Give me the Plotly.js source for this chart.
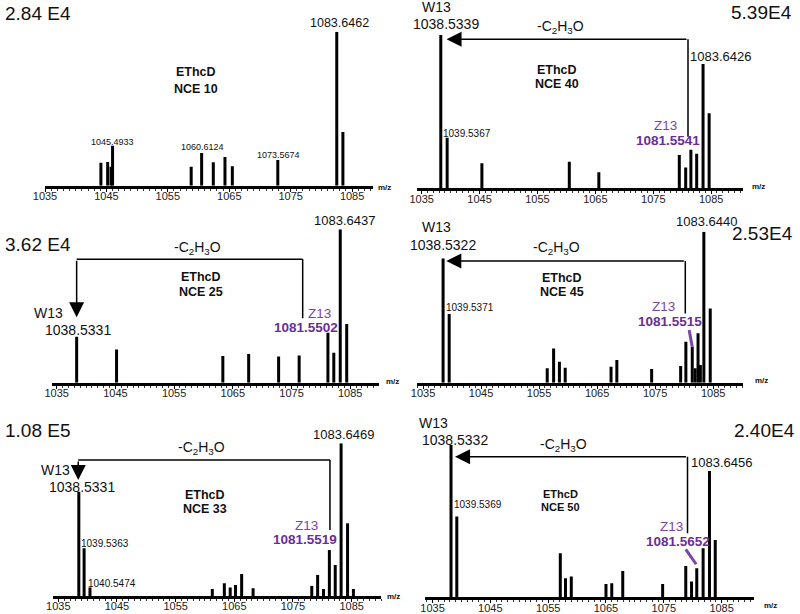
<!DOCTYPE html>
<html>
<head>
<meta charset="utf-8">
<script src="https://cdn.plot.ly/plotly-3.0.1.min.js"></script>
<style>
html, body { margin: 0; padding: 0; background: #fff; }
#grafico { width: 800px; height: 614px; }
</style>
</head>
<body>
<div id="grafico"></div>
<script>
// m/z (read on each panel's own tick scale) and relative intensity (%)
let nce10_mz = [1044.1, 1045.2, 1045.75, 1046.0, 1058.8, 1060.5, 1062.4, 1064.3, 1065.5, 1072.9, 1082.5, 1083.5]
let nce10_int = [14.9, 15.4, 12.3, 26, 12.3, 21.2, 15.2, 18.6, 12.6, 16.7, 100, 34.8]

let nce40_mz = [1038.3, 1039.4, 1045.4, 1060.5, 1065.6, 1079.5, 1080.6, 1081.5, 1082.5, 1083.6, 1084.65]
let nce40_int = [100, 33, 16.3, 17.4, 10.4, 21.7, 13.5, 25.2, 22.6, 81.1, 48.9]

let nce25_mz = [1038.4, 1045.2, 1063.3, 1067.7, 1072.8, 1076.3, 1081.2, 1082.2, 1083.3, 1084.4]
let nce25_int = [30, 21.7, 17.4, 18.7, 17, 17.8, 32.6, 19.6, 100, 38.3]

let nce45_mz = [1038.45, 1039.5, 1056.4, 1057.5, 1058.5, 1059.5, 1067.4, 1068.4, 1074.4, 1079.4, 1080.3, 1081.4, 1081.9, 1082.4, 1082.8, 1083.4, 1084.5]
let nce45_int = [82.3, 45.5, 9.5, 22.7, 13.9, 9.9, 10.6, 15, 9, 11, 27.2, 23.8, 9.5, 32.7, 11.7, 100, 49.2]

let nce33_mz = [1038.5, 1039.4, 1040.4, 1061.25, 1063.3, 1064.3, 1065.2, 1066.25, 1068.2, 1078.2, 1079.2, 1080.2, 1081.2, 1082.2, 1083.2, 1084.3, 1085.3]
let nce33_int = [68.3, 31.2, 5.5, 4.6, 8.3, 5.5, 7.2, 14.4, 5, 6.6, 13.8, 4.6, 30.1, 20.3, 100, 47.6, 4.6]

let nce50_mz = [1038.2, 1039.2, 1057.1, 1058.0, 1059.0, 1065.0, 1066.0, 1067.9, 1074.8, 1078.8, 1079.8, 1080.7, 1081.8, 1082.9, 1083.9]
let nce50_int = [100, 53, 28.9, 12.5, 13.6, 8.8, 9.2, 17.3, 8.8, 20.6, 10.3, 19, 32.2, 82.9, 37.6]

let tick0 = 1035 // first tick label, one every 10

let W = 800, H = 614
let roxo = '#7a45a6'
let roxoEsc = '#6a2e96'
let fonte = 'Liberation Sans, Arial, sans-serif'

// panel boxes in pixels: left, right, top (tallest peak), bottom (axis line) + x range
let paineis = [
    {mz: nce10_mz, it: nce10_int, l: 45, r: 373, t: 31.7, b: 185.7, xr: [1035, 1088.4]},
    {mz: nce40_mz, it: nce40_int, l: 416.7, r: 743, t: 35, b: 188.3, xr: [1034.14, 1090.5]},
    {mz: nce25_mz, it: nce25_int, l: 51.7, r: 379, t: 229.3, b: 382.7, xr: [1034.15, 1089.9]},
    {mz: nce45_mz, it: nce45_int, l: 416.7, r: 743.3, t: 231.7, b: 382.7, xr: [1033.9, 1090.2]},
    {mz: nce33_mz, it: nce33_int, l: 53.3, r: 381, t: 443.3, b: 596, xr: [1034.15, 1090]},
    {mz: nce50_mz, it: nce50_int, l: 425, r: 754, t: 445, b: 597.3, xr: [1033.7, 1090.6]}
]

let data = []
let layout = {
    width: W, height: H,
    margin: {l: 0, r: 0, t: 0, b: 0},
    paper_bgcolor: '#fff', plot_bgcolor: 'rgba(0,0,0,0)',
    showlegend: false,
    font: {family: fonte, color: '#111'},
    annotations: [],
    shapes: []
}

paineis.forEach(function(p, i) {
    let n = i == 0 ? '' : String(i + 1)
    let xs = [], ys = []
    for (let k = 0; k < p.mz.length; k++) {
        xs.push(p.mz[k], p.mz[k], null)
        ys.push(0, p.it[k], null)
    }
    data.push({
        x: xs, y: ys, mode: 'lines', type: 'scatter',
        xaxis: 'x' + n, yaxis: 'y' + n,
        line: {color: '#000', width: 3},
        hoverinfo: 'skip', cliponaxis: false
    })
    layout['xaxis' + n] = {
        domain: [p.l / W, p.r / W], range: p.xr, anchor: 'y' + n,
        showline: true, linewidth: 3, linecolor: '#000',
        tickmode: 'linear', tick0: tick0, dtick: 10,
        ticks: 'outside', ticklen: 3, tickwidth: 1, tickcolor: '#000',
        ticklabelstandoff: -5,
        minor: {ticks: 'outside', dtick: 1, ticklen: 2, tickwidth: 1, tickcolor: '#333'},
        showgrid: false, zeroline: false, fixedrange: true,
        tickfont: {size: 11, color: '#222', family: fonte}
    }
    layout['yaxis' + n] = {
        domain: [1 - p.b / H, 1 - p.t / H], range: [0, 100], anchor: 'x' + n,
        visible: false, fixedrange: true
    }
})

// text label at pixel position
function T(px, py, text, size, extra) {
    let a = {
        xref: 'paper', yref: 'paper', x: px / W, y: 1 - py / H,
        text: text, showarrow: false, xanchor: 'center', yanchor: 'middle',
        font: {size: size, color: '#111', family: fonte}
    }
    if (extra) {
        if (extra.cor) a.font.color = extra.cor
        if (extra.xa) a.xanchor = extra.xa
    }
    layout.annotations.push(a)
}
function B(s) { return '<b>' + s + '</b>' }
let perda = '-C<sub>2</sub>H<sub>3</sub>O'

// NCE 10
T(3, 13, '2.84 E4', 19, {xa: 'left'})
T(339, 23, '1083.6462', 12.5)
T(196, 72, B('EThcD'), 12.5)
T(196, 89, B('NCE 10'), 12.5)
T(113, 141.7, '1045.4933', 9)
T(202.5, 147.3, '1060.6124', 9)
T(278.7, 155, '1073.5674', 9)
T(384, 187, B('m/z'), 8)

// NCE 40
T(436.7, 7.3, 'W13', 14)
T(445.7, 24, '1038.5339', 14)
T(560, 26.7, perda, 14)
T(556.7, 70.5, B('EThcD'), 12.5)
T(556.7, 83.7, B('NCE 40'), 12.5)
T(720, 56.7, '1083.6426', 13)
T(466.7, 133.3, '1039.5367', 10)
T(665.7, 126, 'Z13', 13.5, {cor: roxo})
T(668.3, 140.7, B('1081.5541'), 13.5, {cor: roxoEsc})
T(794, 12.7, '5.39E4', 19, {xa: 'right'})
T(758, 186, B('m/z'), 8)

// NCE 25
T(3, 245, '3.62 E4', 19, {xa: 'left'})
T(197.3, 248.3, perda, 14)
T(201, 277.3, B('EThcD'), 12.5)
T(201, 291.7, B('NCE 25'), 12.5)
T(48.3, 313.3, 'W13', 14)
T(77.7, 330, '1038.5331', 14)
T(319.3, 313.3, 'Z13', 13.5, {cor: roxo})
T(306, 327.3, B('1081.5502'), 13.5, {cor: roxoEsc})
T(344, 220.7, '1083.6437', 13)
T(392, 381, B('m/z'), 8)

// NCE 45
T(436.7, 226.7, 'W13', 14)
T(443.3, 245, '1038.5322', 14)
T(556.7, 248.3, perda, 14)
T(561.7, 278.3, B('EThcD'), 12.5)
T(561.7, 291.7, B('NCE 45'), 12.5)
T(706.7, 221.7, '1083.6440', 13)
T(795, 233.3, '2.53E4', 19, {xa: 'right'})
T(470, 307.3, '1039.5371', 10)
T(663.3, 306, 'Z13', 13.5, {cor: roxo})
T(670, 321.7, B('1081.5515'), 13.5, {cor: roxoEsc})
T(761, 380, B('m/z'), 8)

// NCE 33
T(3, 430.7, '1.08 E5', 19, {xa: 'left'})
T(201.7, 448.3, perda, 14)
T(55, 470, 'W13', 14)
T(81.7, 486.7, '1038.5331', 14)
T(205, 495, B('EThcD'), 12.5)
T(205, 509, B('NCE 33'), 12.5)
T(343.3, 434, '1083.6469', 13)
T(306.7, 525, 'Z13', 13.5, {cor: roxo})
T(305, 539.3, B('1081.5519'), 13.5, {cor: roxoEsc})
T(105, 543.3, '1039.5363', 10)
T(111.7, 583.3, '1040.5474', 10)
T(393, 596, B('m/z'), 8)

// NCE 50
T(433.3, 423.3, 'W13', 14)
T(455, 440, '1038.5332', 14)
T(796.7, 430, '2.40E4', 19, {xa: 'right'})
T(563.3, 445, perda, 14)
T(721.7, 462.3, '1083.6456', 13)
T(560, 494, B('EThcD'), 11)
T(560, 507, B('NCE 50'), 11)
T(478.3, 504, '1039.5369', 10)
T(671.7, 526.7, 'Z13', 13.5, {cor: roxo})
T(678.3, 541, B('1081.5652'), 13.5, {cor: roxoEsc})
T(770, 605, B('m/z'), 8)

// -C2H3O loss brackets, in each panel's data coordinates
function linha(n, x0, y0, x1, y1, cor, w) {
    layout.shapes.push({
        type: 'line', xref: 'x' + n, yref: 'y' + n,
        x0: x0, y0: y0, x1: x1, y1: y1,
        line: {color: cor || '#000', width: w || 1.5}
    })
}
function seta(n, xt, yt, x0, y0) {
    layout.annotations.push({
        xref: 'x' + n, yref: 'y' + n, axref: 'x' + n, ayref: 'y' + n,
        x: xt, y: yt, ax: x0, ay: y0, text: '',
        showarrow: true, arrowhead: 2, arrowsize: 2, arrowwidth: 1.5,
        arrowcolor: '#000', standoff: 0, startstandoff: 0
    })
}
// NCE 40
linha('2', 1081.0, 33.7, 1081.0, 97.2)
seta('2', 1039.3, 97.2, 1081.0, 97.2)
// NCE 25
linha('3', 1076.9, 42, 1076.9, 80.4)
linha('3', 1038.4, 80.4, 1076.9, 80.4)
seta('3', 1038.4, 42.6, 1038.4, 80.4)
// NCE 45
linha('4', 1080.2, 45.9, 1080.2, 80.6)
seta('4', 1039.0, 80.6, 1080.2, 80.6)
linha('4', 1080.86, 34.9, 1081.4, 23.8, roxo, 3)
// NCE 33
linha('5', 1081.3, 43.2, 1081.3, 89.1)
linha('5', 1038.4, 89.1, 1081.3, 89.1)
seta('5', 1038.4, 76, 1038.4, 89.1)
// NCE 50
linha('6', 1079.1, 42, 1079.1, 92.3)
seta('6', 1038.9, 92.3, 1079.1, 92.3)
linha('6', 1078.8, 31.5, 1080.6, 21.7, roxo, 3)

Plotly.newPlot('grafico', data, layout, {staticPlot: true})
</script>
</body>
</html>
